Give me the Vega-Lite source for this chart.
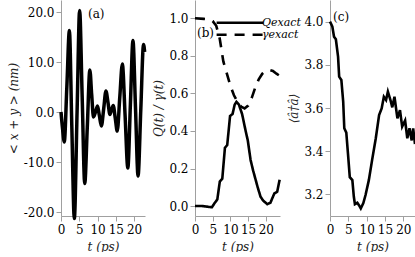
{
  "$schema": "https://vega.github.io/schema/vega-lite/v6.json",
  "padding": {"left": 7, "top": 0, "right": 0, "bottom": 0},
  "background": "white",
  "bounds": "flush",
  "spacing": 50,
  "config": {
    "view": {"stroke": null},
    "font": "DejaVu Serif",
    "axis": {"domainColor": "#a0a0a0", "tickColor": "#a0a0a0", "tickSize": 5, "labelFont": "DejaVu Serif", "labelFontSize": 12, "labelColor": "black", "titleFont": "DejaVu Serif", "titleFontSize": 12, "titleFontWeight": "normal", "titleFontStyle": "italic", "titleColor": "#222", "grid": false, "labelOverlap": false, "labelFlush": false},
    "axisX": {"labelPadding": 3, "titlePadding": 6},
    "axisY": {"labelPadding": 2, "titlePadding": 3},
    "title": {"anchor": "start", "frame": "group", "offset": 0, "baseline": "middle", "fontSize": 12, "fontWeight": "normal", "font": "DejaVu Serif", "color": "black"}
  },
  "resolve": {"scale": {"strokeDash": "independent"}, "legend": {"strokeDash": "independent"}},
  "hconcat": [
    {
      "width": 84, "height": 216,
      "title": {"text": "(a)", "dx": 27, "dy": 25},
      "data": {"values": [
        {"t": 0, "v": 0}, {"t": 0.45, "v": -3.5}, {"t": 0.9, "v": -6}, {"t": 1.6, "v": 5}, {"t": 2.3, "v": 16.3},
        {"t": 2.95, "v": -2.5}, {"t": 3.65, "v": -21.3}, {"t": 4.4, "v": 0}, {"t": 5.1, "v": 20.3}, {"t": 5.8, "v": 3},
        {"t": 6.5, "v": -14.3}, {"t": 7.2, "v": -3}, {"t": 7.9, "v": 8.4}, {"t": 8.4, "v": 3.5}, {"t": 8.9, "v": -1},
        {"t": 9.45, "v": 0}, {"t": 10.0, "v": 1.2}, {"t": 10.5, "v": -0.7}, {"t": 11.05, "v": -2.8}, {"t": 11.7, "v": 0.7},
        {"t": 12.3, "v": 4.2}, {"t": 12.85, "v": 2}, {"t": 13.4, "v": -0.5}, {"t": 13.85, "v": 0.5}, {"t": 14.3, "v": 1.3},
        {"t": 14.85, "v": -1.2}, {"t": 15.4, "v": -3.8}, {"t": 16.1, "v": 3}, {"t": 16.8, "v": 9.6}, {"t": 17.55, "v": -0.7},
        {"t": 18.3, "v": -11.2}, {"t": 19.0, "v": 1.5}, {"t": 19.7, "v": 14.3}, {"t": 20.4, "v": 0.8}, {"t": 21.1, "v": -12.8},
        {"t": 21.85, "v": 0.5}, {"t": 22.6, "v": 13.5}, {"t": 22.9, "v": 12}
      ]},
      "mark": {"type": "line", "color": "black", "strokeWidth": 3.5, "interpolate": "monotone"},
      "encoding": {
        "x": {"field": "t", "type": "quantitative", "scale": {"domain": [0, 23], "nice": false}, "axis": {"values": [0, 5, 10, 15, 20], "title": "t (ps)"}},
        "y": {"field": "v", "type": "quantitative", "scale": {"domain": [-20.8, 22.4], "nice": false, "zero": false}, "axis": {"values": [-20, -10, 0, 10, 20], "labelExpr": "datum.value < 0 ? '-' + format(-datum.value, '.1f') : format(datum.value, '.1f')", "title": "< x + y > (nm)"}}
      }
    },
    {
      "width": 85, "height": 216,
      "title": {"text": "(b)", "dx": 2, "dy": 44},
      "data": {"values": [
        {"t": 0, "v": 0, "s": "Qexact"}, {"t": 1, "v": 0, "s": "Qexact"}, {"t": 2, "v": 0, "s": "Qexact"}, {"t": 3, "v": -0.002, "s": "Qexact"},
        {"t": 4, "v": -0.005, "s": "Qexact"}, {"t": 4.8, "v": -0.006, "s": "Qexact"}, {"t": 5.5, "v": 0.015, "s": "Qexact"}, {"t": 6.3, "v": 0.035, "s": "Qexact"},
        {"t": 7.0, "v": 0.13, "s": "Qexact"}, {"t": 7.7, "v": 0.145, "s": "Qexact"}, {"t": 8.45, "v": 0.31, "s": "Qexact"}, {"t": 9.1, "v": 0.325, "s": "Qexact"},
        {"t": 9.9, "v": 0.48, "s": "Qexact"}, {"t": 10.6, "v": 0.49, "s": "Qexact"}, {"t": 11.2, "v": 0.54, "s": "Qexact"}, {"t": 11.7, "v": 0.555, "s": "Qexact"},
        {"t": 12.4, "v": 0.54, "s": "Qexact"}, {"t": 13.3, "v": 0.49, "s": "Qexact"}, {"t": 14.3, "v": 0.40, "s": "Qexact"}, {"t": 14.9, "v": 0.35, "s": "Qexact"},
        {"t": 15.7, "v": 0.245, "s": "Qexact"}, {"t": 16.4, "v": 0.19, "s": "Qexact"}, {"t": 17.7, "v": 0.10, "s": "Qexact"}, {"t": 18.5, "v": 0.05, "s": "Qexact"},
        {"t": 19.2, "v": 0.03, "s": "Qexact"}, {"t": 20.4, "v": 0.01, "s": "Qexact"}, {"t": 21.3, "v": 0.018, "s": "Qexact"}, {"t": 22.4, "v": 0.067, "s": "Qexact"},
        {"t": 23.2, "v": 0.076, "s": "Qexact"}, {"t": 23.9, "v": 0.14, "s": "Qexact"},
        {"t": 0, "v": 1.0, "s": "γexact"}, {"t": 2.5, "v": 0.997, "s": "γexact"}, {"t": 4, "v": 0.994, "s": "γexact"}, {"t": 5, "v": 0.985, "s": "γexact"},
        {"t": 6, "v": 0.96, "s": "γexact"}, {"t": 7, "v": 0.89, "s": "γexact"}, {"t": 8, "v": 0.77, "s": "γexact"}, {"t": 9, "v": 0.705, "s": "γexact"},
        {"t": 10, "v": 0.64, "s": "γexact"}, {"t": 11, "v": 0.59, "s": "γexact"}, {"t": 12, "v": 0.555, "s": "γexact"}, {"t": 13, "v": 0.53, "s": "γexact"},
        {"t": 14, "v": 0.52, "s": "γexact"}, {"t": 15, "v": 0.535, "s": "γexact"}, {"t": 16, "v": 0.575, "s": "γexact"}, {"t": 17, "v": 0.63, "s": "γexact"},
        {"t": 18, "v": 0.675, "s": "γexact"}, {"t": 19, "v": 0.705, "s": "γexact"}, {"t": 20, "v": 0.72, "s": "γexact"}, {"t": 21, "v": 0.725, "s": "γexact"},
        {"t": 22, "v": 0.72, "s": "γexact"}, {"t": 23, "v": 0.705, "s": "γexact"}, {"t": 23.8, "v": 0.695, "s": "γexact"}
      ]},
      "mark": {"type": "line", "color": "black", "strokeWidth": 2.6},
      "encoding": {
        "x": {"field": "t", "type": "quantitative", "scale": {"domain": [0, 24], "nice": false}, "axis": {"values": [0, 5, 10, 15, 20], "title": "t (ps)"}},
        "y": {"field": "v", "type": "quantitative", "scale": {"domain": [-0.053, 1.0975], "nice": false, "zero": false}, "axis": {"values": [0, 0.2, 0.4, 0.6, 0.8, 1.0], "format": ".1f", "title": "Q(t) / γ(t)"}},
        "strokeDash": {"field": "s", "type": "nominal", "scale": {"domain": ["Qexact", "γexact"], "range": [[1, 0], [10, 8]]},
          "legend": {"orient": "none", "legendX": 39, "legendY": 16.7, "title": null, "padding": 0, "rowPadding": -3, "symbolType": "M-5.2,0H5.2", "symbolSize": 81, "symbolStrokeWidth": 2.6, "symbolStrokeColor": "black", "labelOffset": 16, "labelFont": "DejaVu Serif", "labelFontStyle": "italic", "labelFontSize": 11, "labelColor": "black"}}
      }
    },
    {
      "width": 85, "height": 216,
      "title": {"text": "(c)", "dx": 3, "dy": 28},
      "data": {"values": [
        {"t": 0, "v": 4.0}, {"t": 0.64, "v": 3.977}, {"t": 1.1, "v": 3.93}, {"t": 1.6, "v": 3.918}, {"t": 2.2, "v": 3.838},
        {"t": 2.5, "v": 3.745}, {"t": 3.1, "v": 3.73}, {"t": 3.6, "v": 3.63}, {"t": 3.9, "v": 3.506}, {"t": 4.45, "v": 3.486},
        {"t": 4.9, "v": 3.39}, {"t": 5.4, "v": 3.28}, {"t": 6.1, "v": 3.266}, {"t": 6.5, "v": 3.19}, {"t": 6.8, "v": 3.155},
        {"t": 7.45, "v": 3.161}, {"t": 7.9, "v": 3.15}, {"t": 8.4, "v": 3.135}, {"t": 9.1, "v": 3.16}, {"t": 9.7, "v": 3.197},
        {"t": 10.6, "v": 3.266}, {"t": 11.5, "v": 3.36}, {"t": 12.5, "v": 3.46}, {"t": 13.4, "v": 3.567}, {"t": 14.1, "v": 3.598},
        {"t": 14.7, "v": 3.652}, {"t": 15.3, "v": 3.637}, {"t": 15.8, "v": 3.676}, {"t": 16.5, "v": 3.637}, {"t": 17.0, "v": 3.603},
        {"t": 17.6, "v": 3.652}, {"t": 18.4, "v": 3.552}, {"t": 19.1, "v": 3.59}, {"t": 19.7, "v": 3.514}, {"t": 20.5, "v": 3.542},
        {"t": 21.1, "v": 3.46}, {"t": 21.7, "v": 3.506}, {"t": 22.3, "v": 3.45}, {"t": 22.7, "v": 3.506}, {"t": 23.2, "v": 3.433}
      ]},
      "mark": {"type": "line", "color": "black", "strokeWidth": 2.6},
      "encoding": {
        "x": {"field": "t", "type": "quantitative", "scale": {"domain": [0, 23.2], "nice": false}, "axis": {"values": [0, 5, 10, 15, 20], "title": "t (ps)"}},
        "y": {"field": "v", "type": "quantitative", "scale": {"domain": [3.1, 4.1], "nice": false, "zero": false}, "axis": {"values": [3.2, 3.4, 3.6, 3.8, 4.0], "format": ".1f", "title": "⟨â†â⟩"}}
      }
    }
  ]
}
